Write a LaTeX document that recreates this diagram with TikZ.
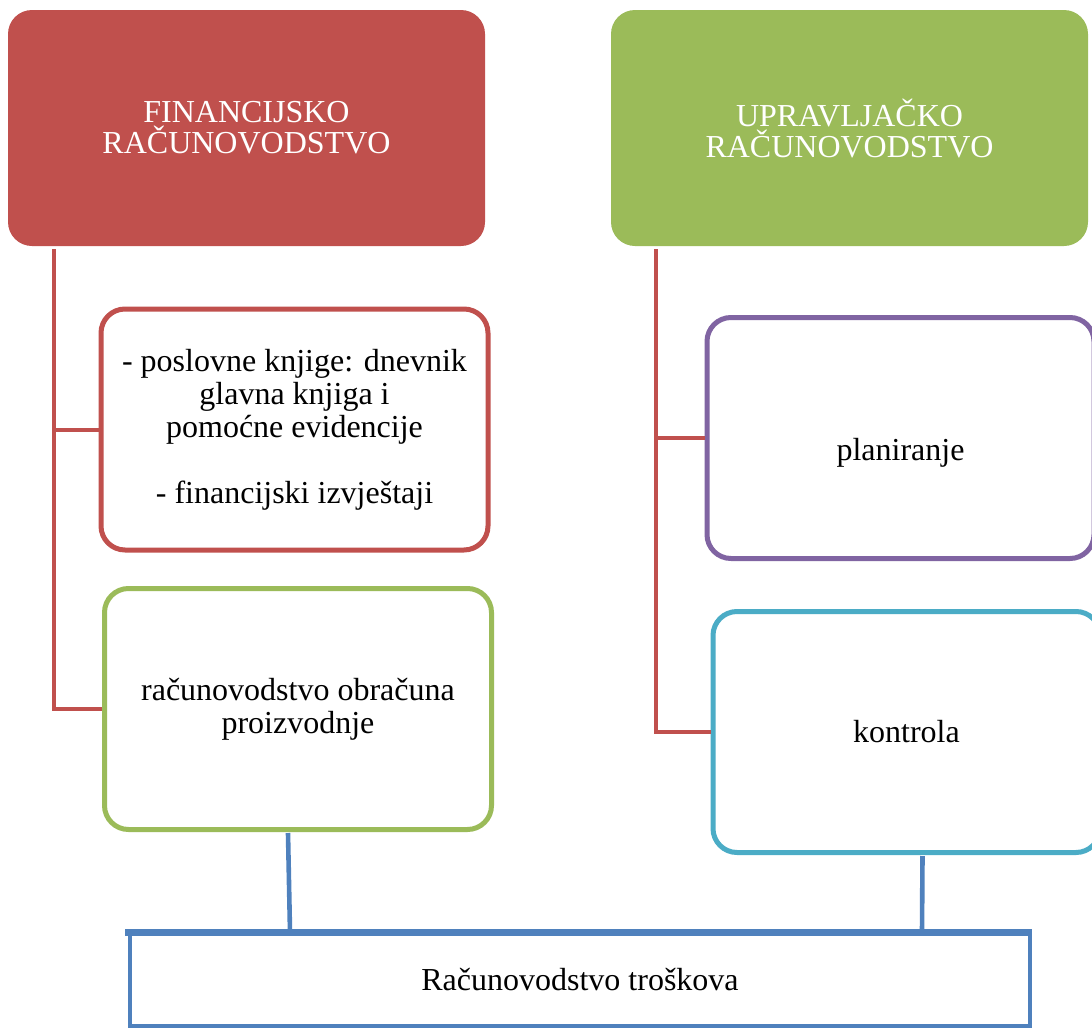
\documentclass[tikz,border=0pt]{standalone}
\usepackage{fontspec}
\setmainfont{Liberation Serif}
\usetikzlibrary{positioning,calc}
\definecolor{crvena}{HTML}{C0504D}
\definecolor{zelena}{HTML}{9BBB59}
\definecolor{ljubicasta}{HTML}{8064A2}
\definecolor{tirkizna}{HTML}{4BACC6}
\definecolor{plava}{HTML}{4F81BD}
\tikzset{
  glava/.style = { rounded corners=12pt, inner sep=2pt, align=center,
    minimum width=238.5pt, minimum height=118pt, text=white, font=\fontsize{16}{15.5}\selectfont },
  kutija/.style = { draw=#1, line width=2.5pt, rounded corners=12pt, fill=white,
    align=center, minimum width=193.5pt, minimum height=120.5pt,
    font=\fontsize{16}{16.5}\selectfont },
  veza/.style = { draw=crvena, line width=2pt },
  plavo/.style = { draw=plava, line width=2.3pt }
}

\begin{document}
\begin{tikzpicture}[x=0.5pt,y=-0.5pt]
    \useasboundingbox (0,0) rectangle (1092,1028);
    % naslovi
    \node[glava, fill=crvena] (fin) at (246.5,128) {FINANCIJSKO\\RAČUNOVODSTVO};
    \node[glava, fill=zelena] (upr) at (849.5,128) {UPRAVLJAČKO\\RAČUNOVODSTVO};

    % lijeva strana
    \node[kutija=crvena] (knj) at (294.5,429.5) {- poslovne knjige: dnevnik\\glavna knjiga i\\pomoćne evidencije\\[16.5pt]- financijski izvještaji};
    \node[kutija=zelena] (obr) at (298,709) {računovodstvo obračuna\\proizvodnje};

    % desna strana
    \node[kutija=ljubicasta, text height=26pt] (plan) at (900.5,438) {planiranje};
    \node[kutija=tirkizna] (kon) at (906.5,732) {kontrola};

    % dno
    \node[draw=plava, line width=2pt, minimum width=450pt, minimum height=46pt,
      font=\fontsize{16}{16}\selectfont] (trosk) at (580,980) {Računovodstvo troškova};
    \draw[plava, line width=3.5pt] ($(trosk.north west)+(-3,0)$) -- (trosk.north east);

    \coordinate (lt) at ($(fin.south west)+(46,3)$);
    \coordinate (rt) at ($(upr.south west)+(45,3)$);
    \draw[veza] (lt) |- (knj.west);
    \draw[veza] (lt) |- (obr.west);
    \draw[veza] (rt) |- (plan.west);
    \draw[veza] (rt) |- (kon.west);

    \draw[plavo] ($(obr.south)+(-10,1)$) -- ($(trosk.north west)+(162,0)$);
    \draw[plavo] ($(kon.south)+(16,1)$) -- ($(trosk.north west)+(794,0)$);
  \end{tikzpicture}
\end{document}
